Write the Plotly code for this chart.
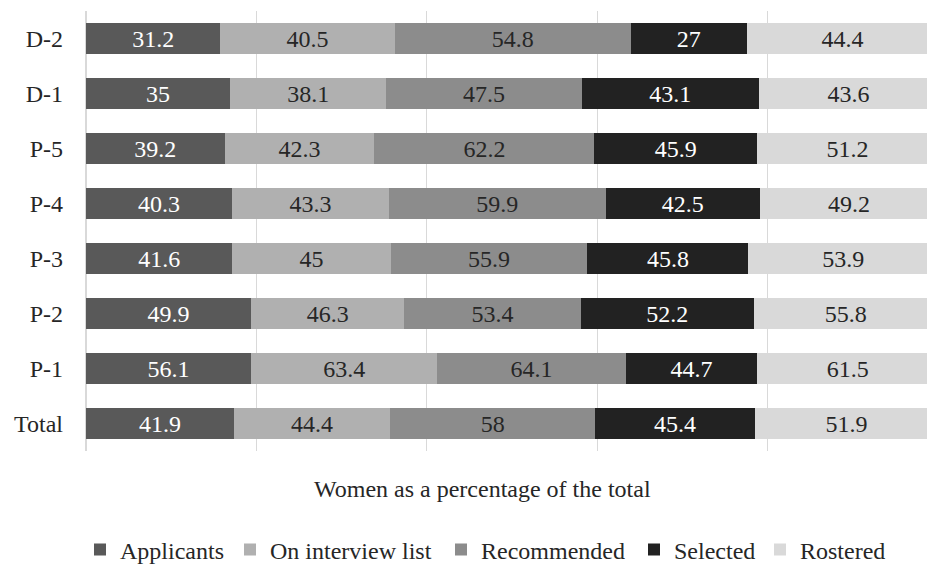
import plotly.graph_objects as go

grades = ["D-2", "D-1", "P-5", "P-4", "P-3", "P-2", "P-1", "Total"]
applicants = [31.2, 35, 39.2, 40.3, 41.6, 49.9, 56.1, 41.9]
interview = [40.5, 38.1, 42.3, 43.3, 45, 46.3, 63.4, 44.4]
recommended = [54.8, 47.5, 62.2, 59.9, 55.9, 53.4, 64.1, 58]
selected = [27, 43.1, 45.9, 42.5, 45.8, 52.2, 44.7, 45.4]
rostered = [44.4, 43.6, 51.2, 49.2, 53.9, 55.8, 61.5, 51.9]

series = [
    ("Applicants", applicants, "#595959", "#ffffff"),
    ("On interview list", interview, "#b0b0b0", "#262626"),
    ("Recommended", recommended, "#8c8c8c", "#262626"),
    ("Selected", selected, "#222222", "#ffffff"),
    ("Rostered", rostered, "#d9d9d9", "#262626"),
]

FONT = "Times New Roman, Liberation Serif, serif"
FS = 24
W, H = 927, 569
ML, MR, MT, MB = 86, 0, 11, 118
PW, PH = W - ML - MR, H - MT - MB

# legend entry text start (px) for each series
legend_text_x = [118, 268, 479, 672, 798]
legend_center_y = 550

fig = go.Figure()
legend_layouts = {}
for i, (name, vals, col, tcol) in enumerate(series):
    lname = "legend" if i == 0 else f"legend{i + 1}"
    fig.add_trace(go.Bar(
        name=name, y=grades, x=vals, orientation="h",
        marker=dict(color=col, line=dict(width=0)),
        text=[f"{v:g}" for v in vals], textposition="inside",
        insidetextanchor="middle", textangle=0, constraintext="none",
        textfont=dict(family=FONT, size=FS, color=tcol),
        hoverinfo="x+y+name", legend=lname,
    ))
    lx_px = legend_text_x[i] - 38
    legend_layouts[lname] = dict(
        orientation="h", x=(lx_px - ML) / PW, xanchor="left",
        y=-(legend_center_y - (MT + PH)) / PH, yanchor="middle",
        font=dict(family=FONT, size=FS, color="#262626"),
        bgcolor="rgba(0,0,0,0)", itemwidth=30,
    )

fig.update_layout(
    width=W, height=H,
    margin=dict(l=ML, r=MR, t=MT, b=MB, autoexpand=False),
    barmode="stack", barnorm="percent", bargap=0.444,
    plot_bgcolor="white", paper_bgcolor="white",
    font=dict(family=FONT, size=FS, color="#262626"),
    showlegend=True,
    annotations=[dict(text="Women as a percentage of the total", xref="paper", yref="paper",
                      x=(482 - ML) / PW, y=-(489 - (MT + PH)) / PH, xanchor="center", yanchor="middle",
                      showarrow=False, font=dict(family=FONT, size=FS, color="#262626"))],
    **legend_layouts,
)
fig.update_xaxes(range=[0, 98.7], dtick=20, showgrid=True, gridcolor="#d9d9d9", gridwidth=1,
                 zeroline=True, zerolinecolor="#d9d9d9", showticklabels=False, ticks="",
                 fixedrange=True)
fig.update_yaxes(autorange="reversed", showgrid=False, ticks="", ticklabelstandoff=22,
                 tickfont=dict(family=FONT, size=FS, color="#262626"), showline=False)

fig.write_html("out.html")
